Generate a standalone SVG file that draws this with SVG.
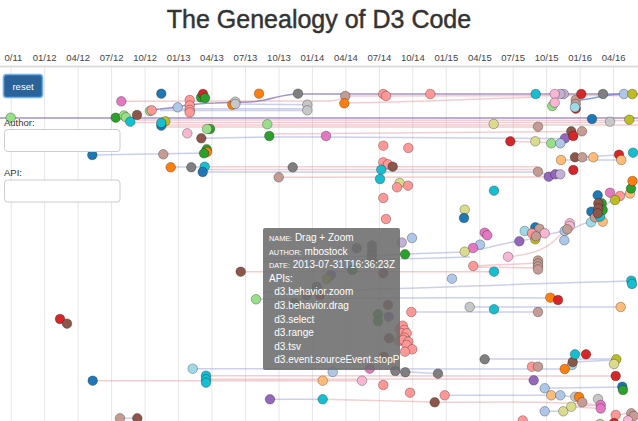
<svg xmlns="http://www.w3.org/2000/svg" width="638" height="421" viewBox="0 0 638 421">
<defs>
<style>
text{font-family:"Liberation Sans",Arial,Helvetica,sans-serif}
.grid line{stroke:#e6e6e6;stroke-width:1}
.ax text{font-size:9.5px;fill:#444;text-anchor:middle}
#connectors path{fill:none;stroke-width:1.5}
.pk{stroke:#e08a92;stroke-opacity:.42}
.lv{stroke:#8f96d2;stroke-opacity:.45}
.pu{stroke:#7c68aa;stroke-opacity:.7}
.bl{stroke:#6d8fd9;stroke-opacity:.85}
#nodes circle{stroke:#000;stroke-opacity:.35;stroke-width:.8}
.fb{fill:#1f77b4}.flb{fill:#aec7e8}.fo{fill:#ff7f0e}.fpe{fill:#ffbb78}.fg{fill:#2ca02c}.flg{fill:#98df8a}.fr{fill:#d62728}.fsa{fill:#ff9896}.fpu{fill:#9467bd}.flpu{fill:#c5b0d5}.fbr{fill:#8c564b}.fro{fill:#c49c94}.fpk{fill:#e377c2}.flp{fill:#f7b6d2}.fgr{fill:#7f7f7f}.flgr{fill:#c7c7c7}.fol{fill:#bcbd22}.flo{fill:#dbdb8d}.fcy{fill:#17becf}.flc{fill:#9edae5}
.lbl{font-size:9.5px;fill:#333}
.inp{fill:#fff;stroke:#ccc;stroke-width:1}
.tt{fill:#fff;font-size:10px}
.sc{font-size:7.3px}
</style>
<clipPath id="ttclip"><rect x="263" y="228" width="137" height="142"/></clipPath>
</defs>
<rect x="0" y="0" width="638" height="421" fill="#fff"/>
<text x="319" y="28" text-anchor="middle" font-size="25" fill="#333" stroke="#333" stroke-width="0.45">The Genealogy of D3 Code</text>
<g class="grid">
<line x1="11.2" y1="67" x2="11.2" y2="421"/><line x1="44.7" y1="67" x2="44.7" y2="421"/><line x1="78.1" y1="67" x2="78.1" y2="421"/><line x1="111.6" y1="67" x2="111.6" y2="421"/><line x1="145.1" y1="67" x2="145.1" y2="421"/><line x1="178.6" y1="67" x2="178.6" y2="421"/><line x1="212" y1="67" x2="212" y2="421"/><line x1="245.5" y1="67" x2="245.5" y2="421"/><line x1="279" y1="67" x2="279" y2="421"/><line x1="312.4" y1="67" x2="312.4" y2="421"/><line x1="345.9" y1="67" x2="345.9" y2="421"/><line x1="379.4" y1="67" x2="379.4" y2="421"/><line x1="412.8" y1="67" x2="412.8" y2="421"/><line x1="446.3" y1="67" x2="446.3" y2="421"/><line x1="479.8" y1="67" x2="479.8" y2="421"/><line x1="513.2" y1="67" x2="513.2" y2="421"/><line x1="546.7" y1="67" x2="546.7" y2="421"/><line x1="580.2" y1="67" x2="580.2" y2="421"/><line x1="613.6" y1="67" x2="613.6" y2="421"/>
</g>
<rect x="0" y="65.5" width="638" height="2" fill="#ddd"/>
<g class="ax">
<text x="13.4" y="61">0/11</text><text x="44.7" y="61">01/12</text><text x="78.1" y="61">04/12</text><text x="111.6" y="61">07/12</text><text x="145.1" y="61">10/12</text><text x="178.6" y="61">01/13</text><text x="212" y="61">04/13</text><text x="245.5" y="61">07/13</text><text x="279" y="61">10/13</text><text x="312.4" y="61">01/14</text><text x="345.9" y="61">04/14</text><text x="379.4" y="61">07/14</text><text x="412.8" y="61">10/14</text><text x="446.3" y="61">01/15</text><text x="479.8" y="61">04/15</text><text x="513.2" y="61">07/15</text><text x="546.7" y="61">10/15</text><text x="580.2" y="61">01/16</text><text x="613.6" y="61">04/16</text>
</g>
<g id="connectors">
<path class="pk" d="M121,101.3 L330,101 C340,101 340,97 350,96 L640,95.5"/>
<path class="pu" d="M151,110 C175,108 190,103 215,103 L250,102 C270,101 280,94 298,94 L640,94"/>
<path class="lv" d="M160,108.7 L307,108.7 M160,110.5 L307,110.5 M235,104 L307,104.7"/>
<path class="pk" d="M344,103 C420,102 480,99 540,97"/>
<path class="bl" d="M581,100 C595,99 605,94 624,94"/>
<path class="pu" d="M0,118 L640,118" stroke-opacity=".45"/>
<path class="pk" d="M137,120 L640,120.5 M130,122.5 L610,122.5 M161,125 L640,125 M160,127 L540,127"/>
<path class="lv" d="M201,138.3 L269,137 L326,137 L565,138.5"/>
<path class="pk" d="M269,134 L571,131.5"/>
<path class="pk" d="M510,141.3 L560,143"/>
<path class="lv" d="M92,155 L207,153"/>
<path class="lv" d="M170,167 L205,167"/>
<path class="pk" d="M205,166.7 L538,166.7 M205,169.5 L540,169.5 M279,177.3 L549,177"/>
<path class="lv" d="M203,172 L538,172 L549,175"/>
<path class="lv" d="M561,160 L621,160 M575,157.3 L619,155"/>
<path class="pk" d="M473,266 L538,263 M473,267 L538,268"/>
<path class="pk" d="M240.7,271.7 L494,271.7"/>
<path class="lv" d="M263,258 C330,258 380,256 405,254 L465,252 C490,249 500,243 519,241 C540,238 550,233 565,231 C575,230 580,223 591,222 C600,220 605,200 615,200 C620,198 625,193 631,190"/>
<path class="lv" d="M263,261.5 C330,261 400,259 470,257"/>
<path class="pk" d="M508,256.7 C530,255 545,250 555,240 C560,235 565,231 570,226"/>
<path class="lv" d="M256,299.3 C330,298 400,297 550,298"/>
<path class="lv" d="M263,292 C400,290 500,284 632,281"/>
<path class="lv" d="M470,307 L621,307 M411,312 L538,312 M485,359 L616,359 M572.7,362 L614,360"/>
<path class="lv" d="M192.7,368.7 L565,369 M395,371 L438,373.7"/>
<path class="pk" d="M206,375.7 L616,376 M206,379.3 L534,379 M92.7,380.7 L362,380.7"/>
<path class="lv" d="M544.7,388.3 L622,387 M445,395.3 L551,395.3 L575,396.7"/>
<path class="pk" d="M322.7,399.3 L434.7,402 M434.7,402.3 C500,402 560,401 600,405 M571,406.7 L600,405 M571,406.7 L600,408.5 M615.7,415 L631,413"/>
<path class="lv" d="M270,399.3 L322.7,399.3 M544.7,411.3 L563.3,411.3 M120,418.3 L137.3,418.3"/>
</g>
<g id="nodes">
<circle id="n1" class="flg" cx="10.7" cy="117.7" r="4.8"/>
<circle id="n2" class="fpk" cx="121.3" cy="101.3" r="4.8"/>
<circle id="n3" class="fb" cx="161.3" cy="93.7" r="4.8"/>
<circle id="n4" class="fg" cx="201" cy="97.5" r="4.8"/>
<circle id="n5" class="fr" cx="203" cy="94" r="4.8"/>
<circle id="n6" class="fg" cx="205" cy="98" r="4.8"/>
<circle id="n7" class="fsa" cx="189.7" cy="100" r="4.8"/>
<circle id="n8" class="fsa" cx="189.7" cy="105.5" r="4.8"/>
<circle id="n9" class="fsa" cx="189.7" cy="110" r="4.8"/>
<circle id="n10" class="fsa" cx="189.7" cy="112.5" r="4.8"/>
<circle id="n11" class="flb" cx="177.7" cy="107.3" r="4.8"/>
<circle id="n12" class="flg" cx="150" cy="111" r="4.8"/>
<circle id="n13" class="fsa" cx="151.7" cy="110.3" r="4.8"/>
<circle id="n14" class="fg" cx="115.7" cy="117.7" r="4.8"/>
<circle id="n15" class="flg" cx="124" cy="115.5" r="4.8"/>
<circle id="n16" class="flg" cx="126" cy="117.3" r="4.8"/>
<circle id="n17" class="fcy" cx="130.3" cy="121.7" r="4.8"/>
<circle id="n18" class="fbr" cx="137" cy="115" r="4.8"/>
<circle id="n19" class="fo" cx="232.3" cy="104.7" r="4.8"/>
<circle id="n20" class="flgr" cx="235.3" cy="101.7" r="4.8"/>
<circle id="n21" class="flgr" cx="235.3" cy="104" r="4.8"/>
<circle id="n22" class="fo" cx="259" cy="93.7" r="4.8"/>
<circle id="n23" class="fgr" cx="298" cy="93.7" r="4.8"/>
<circle id="n24" class="flgr" cx="307.3" cy="104.7" r="4.8"/>
<circle id="n25" class="flgr" cx="307.3" cy="110.3" r="4.8"/>
<circle id="n26" class="fol" cx="165.3" cy="121.3" r="4.8"/>
<circle id="n27" class="fb" cx="161.3" cy="125.7" r="4.8"/>
<circle id="n28" class="fcy" cx="161.3" cy="123" r="4.8"/>
<circle id="n29" class="flp" cx="187.3" cy="133.3" r="4.8"/>
<circle id="n30" class="fg" cx="210" cy="129" r="4.8"/>
<circle id="n31" class="flg" cx="207" cy="129" r="4.8"/>
<circle id="n32" class="flg" cx="267.3" cy="124.3" r="4.8"/>
<circle id="n33" class="fg" cx="269.3" cy="136" r="4.8"/>
<circle id="n34" class="fbr" cx="201.3" cy="138.3" r="4.8"/>
<circle id="n35" class="fro" cx="345.3" cy="96" r="4.8"/>
<circle id="n36" class="fo" cx="344.3" cy="103.3" r="4.8"/>
<circle id="n37" class="fsa" cx="383.3" cy="94" r="4.8"/>
<circle id="n38" class="fsa" cx="386" cy="96" r="4.8"/>
<circle id="n39" class="fsa" cx="430.3" cy="94" r="4.8"/>
<circle id="n40" class="fcy" cx="535.7" cy="94" r="4.8"/>
<circle id="n41" class="flpu" cx="563.7" cy="94" r="4.8"/>
<circle id="n42" class="flpu" cx="560.3" cy="94" r="4.8"/>
<circle id="n43" class="flp" cx="554.7" cy="94" r="4.8"/>
<circle id="n44" class="flg" cx="552.3" cy="106" r="4.8"/>
<circle id="n45" class="flp" cx="554.7" cy="102.7" r="4.8"/>
<circle id="n46" class="fr" cx="575.7" cy="108.7" r="4.8"/>
<circle id="n47" class="fro" cx="575.7" cy="100" r="4.8"/>
<circle id="n48" class="fro" cx="575.7" cy="104" r="4.8"/>
<circle id="n49" class="flc" cx="575" cy="107.3" r="4.8"/>
<circle id="n50" class="fr" cx="581.3" cy="94" r="4.8"/>
<circle id="n51" class="fgr" cx="603" cy="94" r="4.8"/>
<circle id="n52" class="flb" cx="624" cy="94" r="4.8"/>
<circle id="n53" class="fol" cx="632.3" cy="94" r="4.8"/>
<circle id="n54" class="fb" cx="592" cy="119" r="4.8"/>
<circle id="n55" class="flgr" cx="610" cy="121.7" r="4.8"/>
<circle id="n56" class="fol" cx="629.3" cy="119.7" r="4.8"/>
<circle id="n57" class="flo" cx="493.7" cy="124" r="4.8"/>
<circle id="n58" class="fro" cx="538" cy="126.7" r="4.8"/>
<circle id="n59" class="fpk" cx="326" cy="136" r="4.8"/>
<circle id="n60" class="fbr" cx="571.3" cy="131.3" r="4.8"/>
<circle id="n61" class="fro" cx="582" cy="131.3" r="4.8"/>
<circle id="n62" class="fpu" cx="565" cy="138.3" r="4.8"/>
<circle id="n63" class="fr" cx="573.3" cy="136" r="4.8"/>
<circle id="n64" class="fr" cx="510.3" cy="141.3" r="4.8"/>
<circle id="n65" class="flo" cx="535.3" cy="141.3" r="4.8"/>
<circle id="n66" class="flg" cx="551.3" cy="143.3" r="4.8"/>
<circle id="n67" class="flb" cx="560.3" cy="143.3" r="4.8"/>
<circle id="n68" class="fsa" cx="383.3" cy="145.7" r="4.8"/>
<circle id="n69" class="fsa" cx="408.3" cy="148" r="4.8"/>
<circle id="n70" class="fsa" cx="383.3" cy="162.3" r="4.8"/>
<circle id="n71" class="fsa" cx="388" cy="164.3" r="4.8"/>
<circle id="n72" class="fbr" cx="392.7" cy="166.7" r="4.8"/>
<circle id="n73" class="fcy" cx="381.3" cy="169.7" r="4.8"/>
<circle id="n74" class="fcy" cx="380" cy="179" r="4.8"/>
<circle id="n75" class="flo" cx="399.7" cy="183" r="4.8"/>
<circle id="n76" class="fsa" cx="397" cy="187.3" r="4.8"/>
<circle id="n77" class="fsa" cx="408" cy="185.7" r="4.8"/>
<circle id="n78" class="fsa" cx="383.3" cy="198" r="4.8"/>
<circle id="n79" class="fsa" cx="386" cy="219" r="4.8"/>
<circle id="n80" class="fcy" cx="494" cy="190.7" r="4.8"/>
<circle id="n81" class="flo" cx="464.7" cy="209.7" r="4.8"/>
<circle id="n82" class="fb" cx="464" cy="218" r="4.8"/>
<circle id="n83" class="fro" cx="538" cy="171.7" r="4.8"/>
<circle id="n84" class="fpu" cx="548.7" cy="176.7" r="4.8"/>
<circle id="n85" class="fpu" cx="555.3" cy="174.3" r="4.8"/>
<circle id="n86" class="flpu" cx="560.3" cy="174.3" r="4.8"/>
<circle id="n87" class="fr" cx="573.3" cy="170" r="4.8"/>
<circle id="n88" class="fpe" cx="561" cy="160" r="4.8"/>
<circle id="n89" class="fbr" cx="575" cy="157.3" r="4.8"/>
<circle id="n90" class="fro" cx="582.3" cy="157.3" r="4.8"/>
<circle id="n91" class="fpe" cx="593.3" cy="157.3" r="4.8"/>
<circle id="n92" class="fr" cx="619" cy="154.7" r="4.8"/>
<circle id="n93" class="fpe" cx="621.3" cy="160" r="4.8"/>
<circle id="n94" class="fcy" cx="633" cy="152.7" r="4.8"/>
<circle id="n95" class="fpe" cx="630" cy="193.5" r="4.8"/>
<circle id="n96" class="fg" cx="631" cy="188.5" r="4.8"/>
<circle id="n97" class="fo" cx="632.5" cy="181" r="4.8"/>
<circle id="n98" class="fpk" cx="610" cy="192.7" r="4.8"/>
<circle id="n99" class="fsa" cx="620" cy="196" r="4.8"/>
<circle id="n100" class="fol" cx="615" cy="200" r="4.8"/>
<circle id="n101" class="fb" cx="597.7" cy="195.3" r="4.8"/>
<circle id="n102" class="fb" cx="591.3" cy="211.7" r="4.8"/>
<circle id="n103" class="fpe" cx="602.7" cy="221.7" r="4.8"/>
<circle id="n104" class="flc" cx="591" cy="222.3" r="4.8"/>
<circle id="n105" class="fro" cx="595" cy="217.3" r="4.8"/>
<circle id="n106" class="fcy" cx="600" cy="216.7" r="4.8"/>
<circle id="n107" class="fg" cx="601.7" cy="203.3" r="4.8"/>
<circle id="n108" class="fg" cx="602.7" cy="210" r="4.8"/>
<circle id="n109" class="fbr" cx="598.3" cy="203.3" r="4.8"/>
<circle id="n110" class="fbr" cx="598.3" cy="208.3" r="4.8"/>
<circle id="n111" class="fbr" cx="597.7" cy="213.3" r="4.8"/>
<circle id="n112" class="fpk" cx="484.7" cy="232.7" r="4.8"/>
<circle id="n113" class="fpk" cx="487.3" cy="235.3" r="4.8"/>
<circle id="n114" class="flc" cx="524.7" cy="231" r="4.8"/>
<circle id="n115" class="fb" cx="535.3" cy="227.3" r="4.8"/>
<circle id="n116" class="fol" cx="535.3" cy="239.3" r="4.8"/>
<circle id="n117" class="fro" cx="539.3" cy="228.7" r="4.8"/>
<circle id="n118" class="fsa" cx="532" cy="233.3" r="4.8"/>
<circle id="n119" class="flp" cx="544.7" cy="233.3" r="4.8"/>
<circle id="n120" class="fro" cx="536" cy="236.3" r="4.8"/>
<circle id="n121" class="flp" cx="569.7" cy="223.3" r="4.8"/>
<circle id="n122" class="flp" cx="569.7" cy="226" r="4.8"/>
<circle id="n123" class="flb" cx="564.7" cy="231" r="4.8"/>
<circle id="n124" class="fro" cx="567.3" cy="229.3" r="4.8"/>
<circle id="n125" class="flb" cx="564.3" cy="240.3" r="4.8"/>
<circle id="n126" class="fpu" cx="519.3" cy="241.3" r="4.8"/>
<circle id="n127" class="flb" cx="480" cy="244.7" r="4.8"/>
<circle id="n128" class="fpk" cx="473" cy="248" r="4.8"/>
<circle id="n129" class="flo" cx="464.7" cy="251.7" r="4.8"/>
<circle id="n130" class="flp" cx="508" cy="256.7" r="4.8"/>
<circle id="n131" class="fsa" cx="473.3" cy="266" r="4.8"/>
<circle id="n132" class="fro" cx="538" cy="260.5" r="4.8"/>
<circle id="n133" class="fro" cx="538" cy="263.5" r="4.8"/>
<circle id="n134" class="fro" cx="538" cy="266.5" r="4.8"/>
<circle id="n135" class="fro" cx="538" cy="269.5" r="4.8"/>
<circle id="n136" class="flb" cx="412" cy="238" r="4.8"/>
<circle id="n137" class="flpu" cx="401.7" cy="242.5" r="4.8"/>
<circle id="n138" class="fg" cx="405" cy="254.3" r="4.8"/>
<circle id="n139" class="fcy" cx="494" cy="271.7" r="4.8"/>
<circle id="n140" class="flb" cx="452" cy="278.7" r="4.8"/>
<circle id="n141" class="fcy" cx="631.3" cy="280.7" r="4.8"/>
<circle id="n142" class="fcy" cx="632" cy="284" r="4.8"/>
<circle id="n143" class="fo" cx="550.3" cy="297.7" r="4.8"/>
<circle id="n144" class="fr" cx="558" cy="300" r="4.8"/>
<circle id="n145" class="flgr" cx="469.7" cy="307" r="4.8"/>
<circle id="n146" class="fcy" cx="494" cy="309.3" r="4.8"/>
<circle id="n147" class="fro" cx="538" cy="312" r="4.8"/>
<circle id="n148" class="fpe" cx="620.7" cy="307" r="4.8"/>
<circle id="n149" class="fsa" cx="411.3" cy="312" r="4.8"/>
<circle id="n150" class="fbr" cx="388" cy="305" r="4.8"/>
<circle id="n151" class="fg" cx="378" cy="314.3" r="4.8"/>
<circle id="n152" class="fg" cx="378" cy="321" r="4.8"/>
<circle id="n153" class="fpu" cx="388.7" cy="316.7" r="4.8"/>
<circle id="n154" class="fbr" cx="389" cy="338.3" r="4.8"/>
<circle id="n155" class="fbr" cx="383.7" cy="356.7" r="4.8"/>
<circle id="n156" class="fsa" cx="400" cy="329" r="4.8"/>
<circle id="n157" class="fsa" cx="399" cy="341" r="4.8"/>
<circle id="n158" class="fsa" cx="402.7" cy="325.7" r="4.8"/>
<circle id="n159" class="fsa" cx="404.3" cy="330" r="4.8"/>
<circle id="n160" class="fsa" cx="401.7" cy="333.3" r="4.8"/>
<circle id="n161" class="fsa" cx="406.7" cy="333.3" r="4.8"/>
<circle id="n162" class="fsa" cx="404.3" cy="337.7" r="4.8"/>
<circle id="n163" class="fsa" cx="403.3" cy="340" r="4.8"/>
<circle id="n164" class="fsa" cx="408.3" cy="341.7" r="4.8"/>
<circle id="n165" class="fsa" cx="406.7" cy="345" r="4.8"/>
<circle id="n166" class="fsa" cx="412.3" cy="349.3" r="4.8"/>
<circle id="n167" class="fsa" cx="405" cy="351.7" r="4.8"/>
<circle id="n168" class="fpk" cx="369.7" cy="368.7" r="4.8"/>
<circle id="n169" class="fgr" cx="395.3" cy="371" r="4.8"/>
<circle id="n170" class="fgr" cx="405.3" cy="372.3" r="4.8"/>
<circle id="n171" class="fgr" cx="438" cy="373.7" r="4.8"/>
<circle id="n172" class="fgr" cx="484.7" cy="359.3" r="4.8"/>
<circle id="n173" class="flb" cx="332.7" cy="372" r="4.8"/>
<circle id="n174" class="fpe" cx="322.7" cy="380.7" r="4.8"/>
<circle id="n175" class="flp" cx="362" cy="380.7" r="4.8"/>
<circle id="n176" class="fsa" cx="383.3" cy="385" r="4.8"/>
<circle id="n177" class="fsa" cx="410" cy="392.7" r="4.8"/>
<circle id="n178" class="fsa" cx="444.7" cy="395.3" r="4.8"/>
<circle id="n179" class="fbr" cx="434.7" cy="402.3" r="4.8"/>
<circle id="n180" class="fcy" cx="322.7" cy="399.3" r="4.8"/>
<circle id="n181" class="fsa" cx="532" cy="366.7" r="4.8"/>
<circle id="n182" class="fro" cx="538" cy="366.7" r="4.8"/>
<circle id="n183" class="flc" cx="572" cy="365" r="4.8"/>
<circle id="n184" class="fbr" cx="572.7" cy="362" r="4.8"/>
<circle id="n185" class="fo" cx="564.7" cy="369" r="4.8"/>
<circle id="n186" class="fcy" cx="575" cy="354.3" r="4.8"/>
<circle id="n187" class="fr" cx="586" cy="354.3" r="4.8"/>
<circle id="n188" class="fol" cx="616.3" cy="359.3" r="4.8"/>
<circle id="n189" class="flo" cx="614" cy="364" r="4.8"/>
<circle id="n190" class="fr" cx="615.7" cy="376" r="4.8"/>
<circle id="n191" class="fpu" cx="533.7" cy="380.3" r="4.8"/>
<circle id="n192" class="flb" cx="544.7" cy="388.3" r="4.8"/>
<circle id="n193" class="fb" cx="622.3" cy="386.7" r="4.8"/>
<circle id="n194" class="fg" cx="623" cy="390" r="4.8"/>
<circle id="n195" class="fpe" cx="551.3" cy="395.3" r="4.8"/>
<circle id="n196" class="flb" cx="560.3" cy="395.3" r="4.8"/>
<circle id="n197" class="flgr" cx="575.3" cy="396.7" r="4.8"/>
<circle id="n198" class="fo" cx="579" cy="397" r="4.8"/>
<circle id="n199" class="fro" cx="582.3" cy="402.3" r="4.8"/>
<circle id="n200" class="flgr" cx="598" cy="399" r="4.8"/>
<circle id="n201" class="fpk" cx="600.7" cy="405" r="4.8"/>
<circle id="n202" class="fpk" cx="600.7" cy="408.5" r="4.8"/>
<circle id="n203" class="flb" cx="544.7" cy="411.3" r="4.8"/>
<circle id="n204" class="flo" cx="563.3" cy="411.3" r="4.8"/>
<circle id="n205" class="flo" cx="571.3" cy="406.7" r="4.8"/>
<circle id="n206" class="fsa" cx="615.7" cy="415" r="4.8"/>
<circle id="n207" class="fro" cx="631.3" cy="413.3" r="4.8"/>
<circle id="n208" class="fro" cx="633.7" cy="416" r="4.8"/>
<circle id="n209" class="fsa" cx="522.7" cy="420.5" r="4.8"/>
<circle id="n210" class="flp" cx="628" cy="420.5" r="4.8"/>
<circle id="n211" class="fr" cx="614" cy="423" r="4.8"/>
<circle id="n212" class="flg" cx="600" cy="424" r="4.8"/>
<circle id="n213" class="fb" cx="92.3" cy="155" r="4.8"/>
<circle id="n214" class="fro" cx="163.3" cy="154.3" r="4.8"/>
<circle id="n215" class="fg" cx="206.7" cy="149.3" r="4.8"/>
<circle id="n216" class="fo" cx="207" cy="152" r="4.8"/>
<circle id="n217" class="fg" cx="204" cy="153.3" r="4.8"/>
<circle id="n218" class="fo" cx="170.7" cy="167.3" r="4.8"/>
<circle id="n219" class="fgr" cx="191.3" cy="167.3" r="4.8"/>
<circle id="n220" class="fcy" cx="204.7" cy="166.7" r="4.8"/>
<circle id="n221" class="fb" cx="202.7" cy="172" r="4.8"/>
<circle id="n222" class="fgr" cx="292.7" cy="167.3" r="4.8"/>
<circle id="n223" class="fro" cx="278.7" cy="177.3" r="4.8"/>
<circle id="n224" class="fbr" cx="240.7" cy="271.7" r="4.8"/>
<circle id="n225" class="flg" cx="256" cy="299.3" r="4.8"/>
<circle id="n226" class="fr" cx="60" cy="319" r="4.8"/>
<circle id="n227" class="fbr" cx="67" cy="323.7" r="4.8"/>
<circle id="n228" class="flc" cx="192.7" cy="368.7" r="4.8"/>
<circle id="n229" class="fcy" cx="206" cy="375.7" r="4.8"/>
<circle id="n230" class="fcy" cx="206" cy="379.3" r="4.8"/>
<circle id="n231" class="fcy" cx="206" cy="382.7" r="4.8"/>
<circle id="n232" class="fb" cx="92.7" cy="380.7" r="4.8"/>
<circle id="n233" class="fpu" cx="270" cy="399.3" r="4.8"/>
<circle id="n234" class="fro" cx="120" cy="418.3" r="4.8"/>
<circle id="n235" class="fbr" cx="137.3" cy="418.3" r="4.8"/>
<circle id="n236" class="fgr" cx="356.7" cy="248.3" r="4.8"/>
<circle id="n237" class="fgr" cx="372" cy="245.5" r="4.8"/>
<circle id="n238" class="fgr" cx="372" cy="250.5" r="4.8"/>
<circle id="n239" class="fgr" cx="372" cy="255.5" r="4.8"/>
<circle id="n240" class="fgr" cx="372" cy="260" r="4.8"/>
<circle id="n241" class="fpu" cx="331" cy="275" r="4.8"/>
<circle id="n242" class="fol" cx="326.7" cy="279" r="4.8"/>
<circle id="n243" class="fg" cx="352.3" cy="270" r="4.8"/>
<circle id="n244" class="fbr" cx="383.3" cy="273.3" r="4.8"/>
<circle id="n245" class="fgr" cx="316.7" cy="286.7" r="4.8"/>
<circle id="n246" class="fgr" cx="306.7" cy="295" r="4.8"/>
<circle id="n247" class="fr" cx="320" cy="295" r="4.8"/>
<circle id="n248" class="fgr" cx="294.3" cy="303.3" r="4.8"/>
</g>
<g id="controls">
<rect x="3.5" y="74.5" width="39" height="23" rx="3" fill="#2a6399" stroke="#6fb0ea" stroke-width="1.6"/>
<text x="23" y="89.5" text-anchor="middle" font-size="9.5" fill="#fff">reset</text>
<text class="lbl" x="4" y="125.5">Author:</text>
<rect class="inp" x="4.5" y="129.5" width="115.5" height="22" rx="3"/>
<text class="lbl" x="4" y="175.5">API:</text>
<rect class="inp" x="4.5" y="180" width="115.5" height="22" rx="3"/>
</g>
<g id="tooltip">
<rect x="263" y="228" width="137" height="142" rx="2" fill="#6c6c6c" fill-opacity="0.88"/>
<g clip-path="url(#ttclip)">
<text class="tt" x="269" y="241"><tspan class="sc">NAME:</tspan> Drag + Zoom</text>
<text class="tt" x="269" y="254.7"><tspan class="sc">AUTHOR:</tspan> mbostock</text>
<text class="tt" x="269" y="268.3"><tspan class="sc">DATE:</tspan> 2013-07-31T16:36:23Z</text>
<text class="tt" x="269" y="281.8">APIs:</text>
<text class="tt" x="274.3" y="295.4">d3.behavior.zoom</text>
<text class="tt" x="274.3" y="309">d3.behavior.drag</text>
<text class="tt" x="274.3" y="322.6">d3.select</text>
<text class="tt" x="274.3" y="336.2">d3.range</text>
<text class="tt" x="274.3" y="349.8">d3.tsv</text>
<text class="tt" x="274.3" y="363.4">d3.event.sourceEvent.stopP</text>
</g>
</g>
</svg>
